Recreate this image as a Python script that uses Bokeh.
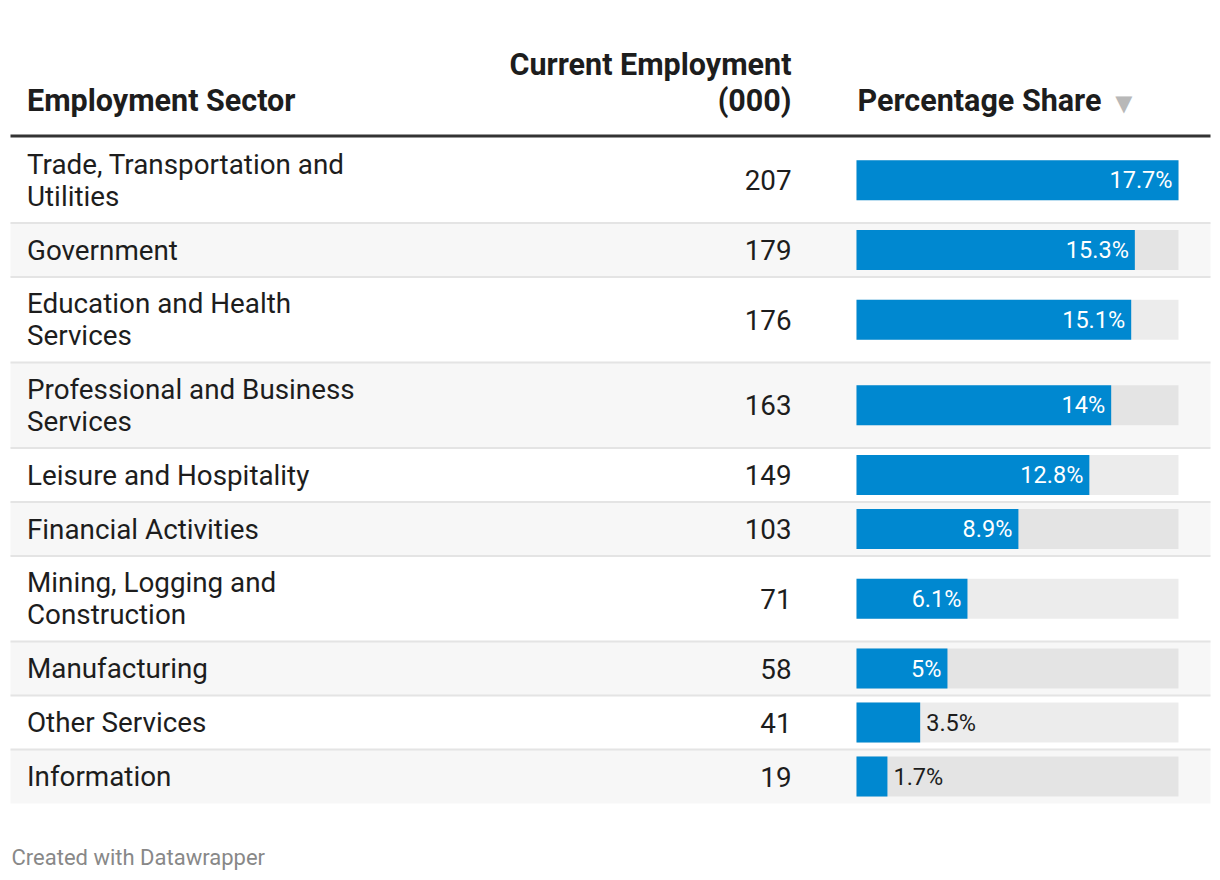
from bokeh.plotting import figure
from bokeh.models import Range1d
from bokeh.core.properties import value
from bokeh.embed import file_html
from bokeh.resources import INLINE

sectors = [
    "Trade, Transportation and\nUtilities",
    "Government",
    "Education and Health\nServices",
    "Professional and Business\nServices",
    "Leisure and Hospitality",
    "Financial Activities",
    "Mining, Logging and\nConstruction",
    "Manufacturing",
    "Other Services",
    "Information",
]
employment = [207, 179, 176, 163, 149, 103, 71, 58, 41, 19]
share = [17.7, 15.3, 15.1, 14.0, 12.8, 8.9, 6.1, 5.0, 3.5, 1.7]
share_labels = ["17.7%", "15.3%", "15.1%", "14%", "12.8%", "8.9%", "6.1%", "5%", "3.5%", "1.7%"]

col_headers = ["Employment Sector", "Current Employment\n(000)", "Percentage Share"]
footer = "Created with Datawrapper"

FONT = value("Roboto")
W, H = 1216, 876
p = figure(width=W, height=H, output_backend="svg", toolbar_location=None,
           x_range=Range1d(0, W), y_range=Range1d(H, 0),
           x_axis_location=None, y_axis_location=None, min_border=0)
p.grid.visible = False
p.outline_line_color = None
p.background_fill_color = "white"
p.border_fill_color = "white"

TABLE_L, TABLE_R = 10, 1210
BAR_L, BAR_R = 856, 1178
NUM_R = 791
TEXT_L = 26.5
TOP = 137
H1, H2 = 54, 85.5
LINE_GAP = 32
BODY = "27.8px"
TXT = "#1d1d1d"

# row geometry
tops, bots, centers = [], [], []
y = TOP
for s in sectors:
    h = H2 if "\n" in s else H1
    tops.append(y); bots.append(y + h); centers.append(y + h / 2)
    y += h

# row shading
shade_idx = [i for i in range(len(sectors)) if i % 2 == 1]
p.quad(left=TABLE_L, right=TABLE_R, top=[tops[i] for i in shade_idx],
       bottom=[bots[i] for i in shade_idx], fill_color="#f7f7f7", line_color=None)
# dividers
p.segment(x0=TABLE_L, x1=TABLE_R, y0=bots[:-1], y1=bots[:-1], line_color="#e4e4e4", line_width=2)
# header line
p.segment(x0=[TABLE_L], x1=[TABLE_R], y0=[135.5], y1=[135.5], line_color="#333333", line_width=3)

# headers
hdr_bold = dict(text_font=FONT, text_font_style="bold", text_font_size="30.5px",
                text_color=TXT, text_baseline="middle")
p.text(x=[TEXT_L], y=[100], text=[col_headers[0]], text_align="left", **hdr_bold)
l1, l2 = col_headers[1].split("\n")
p.text(x=[NUM_R, NUM_R], y=[64, 100], text=[l1, l2], text_align="right", **hdr_bold)
p.text(x=[BAR_L + 1], y=[100], text=[col_headers[2]], text_align="left", **hdr_bold)
p.text(x=[1109], y=[102], text=["\u25BC"], text_font=FONT, text_font_size="29px",
       text_color="#b8b8b8", text_baseline="middle", text_align="left")

# sector labels
lx, ly, lt = [], [], []
for s, c in zip(sectors, centers):
    parts = s.split("\n")
    n = len(parts)
    for k, part in enumerate(parts):
        lx.append(TEXT_L); ly.append(c + (k - (n - 1) / 2) * LINE_GAP); lt.append(part)
p.text(x=lx, y=ly, text=lt, text_font=FONT, text_font_size=BODY, text_color=TXT,
       text_baseline="middle", text_align="left")

# numbers
p.text(x=[NUM_R] * len(employment), y=centers, text=[str(v) for v in employment],
       text_font=FONT, text_font_size=BODY, text_color=TXT,
       text_baseline="middle", text_align="right")

# bars
smax = max(share)
scale = (BAR_R - BAR_L) / smax
BH = 40
p.quad(left=BAR_L, right=BAR_R, top=[c - BH / 2 for c in centers], bottom=[c + BH / 2 for c in centers],
       fill_color="#000000", fill_alpha=0.075, line_color=None)
ends = [BAR_L + v * scale for v in share]
p.quad(left=BAR_L, right=ends, top=[c - BH / 2 for c in centers], bottom=[c + BH / 2 for c in centers],
       fill_color="#0088d0", line_color=None)

inside = [i for i, v in enumerate(share) if v >= 4.5]
outside = [i for i, v in enumerate(share) if v < 4.5]
p.text(x=[ends[i] - 6 for i in inside], y=[centers[i] for i in inside],
       text=[share_labels[i] for i in inside], text_font=FONT, text_font_size="23.5px",
       text_color="white", text_baseline="middle", text_align="right")
p.text(x=[ends[i] + 6 for i in outside], y=[centers[i] for i in outside],
       text=[share_labels[i] for i in outside], text_font=FONT, text_font_size="23.5px",
       text_color=TXT, text_baseline="middle", text_align="left")

# footer
p.text(x=[11], y=[857], text=[footer], text_font=FONT, text_font_size="22px",
       text_color="#888888", text_baseline="middle", text_align="left")

open("out.html", "w").write(file_html(p, INLINE))
